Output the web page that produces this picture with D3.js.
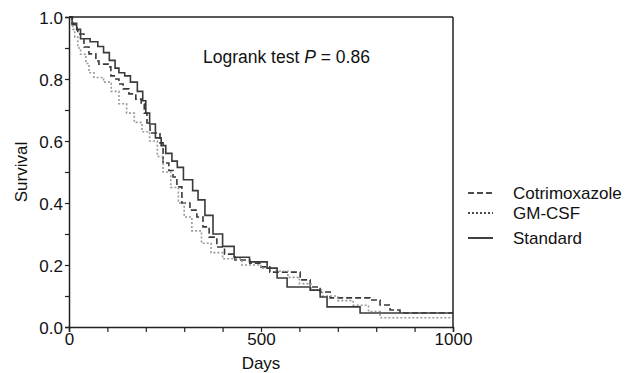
<!DOCTYPE html>
<html><head><meta charset="utf-8">
<script src="https://cdn.jsdelivr.net/npm/d3@7"></script>
<style>body{margin:0;background:#fff;}svg{display:block;font-family:"Liberation Sans",Arial,sans-serif;}</style>
</head><body>
<svg id="c" width="631" height="373"></svg>
<script>
const seriesNames = ["Cotrimoxazole","GM-CSF","Standard"];
const cotrimoxazole = [[0,1],[8,0.975],[21,0.958],[23,0.945],[39,0.903],[52,0.881],[70,0.858],[78,0.848],[102,0.839],[109,0.81],[122,0.8],[130,0.784],[141,0.768],[156,0.752],[174,0.735],[188,0.719],[196,0.69],[203,0.658],[211,0.626],[237,0.594],[245,0.529],[260,0.505],[271,0.484],[281,0.452],[294,0.4],[315,0.377],[333,0.355],[349,0.323],[365,0.29],[385,0.258],[405,0.235],[432,0.216],[471,0.206],[497,0.194],[523,0.177],[576,0.177],[602,0.152],[628,0.129],[654,0.113],[680,0.094],[706,0.094],[784,0.087],[810,0.071],[836,0.055],[862,0.045],[1000,0.045]];
const gmcsf = [[0,1],[10,0.96],[15,0.935],[23,0.9],[30,0.88],[44,0.85],[52,0.82],[65,0.805],[90,0.79],[110,0.76],[130,0.72],[150,0.69],[170,0.66],[190,0.63],[210,0.6],[230,0.55],[245,0.5],[265,0.45],[285,0.4],[300,0.355],[320,0.31],[345,0.27],[370,0.24],[400,0.22],[450,0.2],[500,0.19],[540,0.18],[570,0.16],[600,0.14],[630,0.12],[660,0.1],[700,0.085],[740,0.07],[780,0.05],[810,0.03],[1000,0.03]];
const standard = [[0,1],[8,0.98],[20,0.96],[30,0.93],[55,0.92],[75,0.905],[90,0.885],[105,0.86],[120,0.835],[130,0.82],[145,0.81],[160,0.79],[178,0.76],[192,0.73],[200,0.69],[210,0.655],[225,0.61],[240,0.585],[252,0.56],[268,0.535],[282,0.515],[298,0.475],[322,0.44],[336,0.41],[354,0.36],[375,0.3],[400,0.26],[430,0.225],[470,0.21],[516,0.19],[542,0.158],[568,0.129],[628,0.119],[654,0.097],[672,0.065],[750,0.065],[758,0.045],[1000,0.045]];
const xTicks = [0,100,200,300,400,500,600,700,800,900,1000];
const xLabels = [0,500,1000];
const yTicks = [0,0.1,0.2,0.3,0.4,0.5,0.6,0.7,0.8,0.9,1.0];
const yLabels = [0,0.2,0.4,0.6,0.8,1.0];

const svg = d3.select("#c");
const x = d3.scaleLinear().domain([0,1000]).range([69,453]);
const y = d3.scaleLinear().domain([0,1]).range([327,17]);

const line = d3.line().x(d=>x(d[0])).y(d=>y(d[1])).curve(d3.curveStepAfter);
const styles = [
  {data:cotrimoxazole, dash:"6,3", color:"#3a3a3a", w:1.6},
  {data:gmcsf, dash:"2,2", color:"#9a9a9a", w:1.6},
  {data:standard, dash:null, color:"#3a3a3a", w:1.6}
];
styles.forEach(s=>{
  svg.append("path").datum(s.data).attr("d",line).attr("fill","none")
    .attr("stroke",s.color).attr("stroke-width",s.w).attr("stroke-dasharray",s.dash);
});

// frame
svg.append("line").attr("x1",x(0)).attr("x2",x(1000)).attr("y1",y(1)).attr("y2",y(1)).attr("stroke","#222").attr("stroke-width",1.5);
svg.append("line").attr("x1",x(1000)).attr("x2",x(1000)).attr("y1",y(1)).attr("y2",y(0)).attr("stroke","#222").attr("stroke-width",1.5);

const xAxis = svg.append("g").attr("transform",`translate(0,${y(0)})`)
  .call(d3.axisBottom(x).tickValues(xTicks).tickSize(5).tickFormat(d=>xLabels.includes(d)?d:""));
const yAxis = svg.append("g").attr("transform",`translate(${x(0)},0)`)
  .call(d3.axisLeft(y).tickValues(yTicks).tickSize(4).tickFormat(d=>yLabels.some(v=>Math.abs(v-d)<1e-9)?d3.format(".1f")(d):""));
[xAxis,yAxis].forEach(a=>{
  a.select(".domain").attr("stroke","#222").attr("stroke-width",1.5);
  a.selectAll(".tick line").attr("stroke","#222").attr("stroke-width",1.2);
  a.selectAll("text").attr("font-family","Liberation Sans, Arial, sans-serif").attr("font-size",17).attr("fill","#111");
});
xAxis.selectAll("text").attr("y",6).attr("dy","0.71em");
yAxis.selectAll("text").attr("x",-6).attr("dy","0.36em");

svg.append("text").attr("x",x(500)).attr("y",369).attr("text-anchor","middle").attr("font-size",17).attr("fill","#111").text("Days");
svg.append("text").attr("transform",`translate(27,${y(0.5)}) rotate(-90)`).attr("text-anchor","middle").attr("font-size",17).attr("fill","#111").text("Survival");

const ann = svg.append("text").attr("x",203).attr("y",63).attr("font-size",17.5).attr("fill","#111");
ann.append("tspan").text("Logrank test ");
ann.append("tspan").attr("font-style","italic").text("P");
ann.append("tspan").text(" = 0.86");

const legY = [193,213,238];
seriesNames.forEach((n,i)=>{
  svg.append("line").attr("x1",468).attr("x2",493).attr("y1",legY[i]).attr("y2",legY[i])
    .attr("stroke","#111").attr("stroke-width",1.6).attr("stroke-dasharray",i===0?"6,3":(i===1?"2,2":null));
  svg.append("text").attr("x",513).attr("y",legY[i]).attr("dy","0.35em").attr("font-size",17).attr("fill","#111").text(n);
});
</script>
</body></html>
